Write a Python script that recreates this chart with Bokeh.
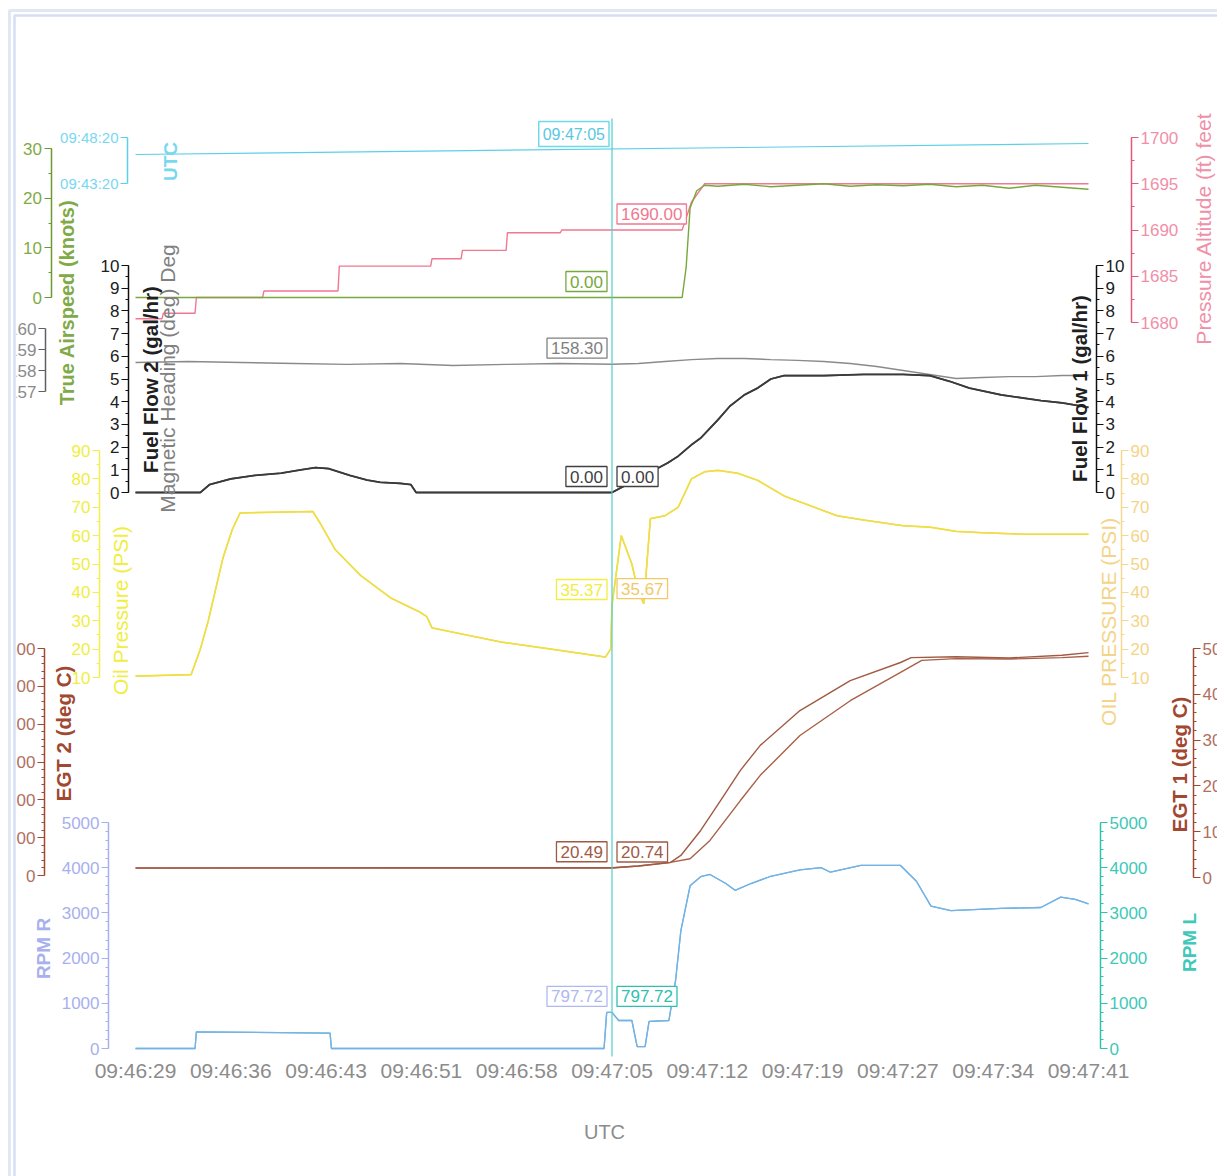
import math
from bokeh.plotting import figure
from bokeh.models import Range1d, LinearAxis, FixedTicker, Label, BoxAnnotation
from bokeh.embed import file_html
from bokeh.resources import INLINE

# ---------------- data ----------------
x_tick_labels = ["09:46:29", "09:46:36", "09:46:43", "09:46:51", "09:46:58", "09:47:05",
                 "09:47:12", "09:47:19", "09:47:27", "09:47:34", "09:47:41"]
span_seconds = 72          # 09:46:29 -> 09:47:41
cursor_t = 36.0            # 09:47:05
cursor_label = "09:47:05"

utc_t = [0, 72]
utc_v = [0, 72]            # seconds after 09:46:29
utc_ticks = [-189, 111]
utc_tick_labels = ["09:43:20", "09:48:20"]

air_t = [0, 41.3, 41.6, 41.9, 42.4, 43.0, 44.0, 46.0, 48.0, 50.0, 52.0, 54.0, 56.0, 58.0, 60.0, 62.0, 64.0, 66.0, 68.0, 70.0, 72.0]
air_v = [0, 0, 6, 18, 21.5, 22.6, 22.4, 22.8, 22.3, 22.6, 22.9, 22.4, 22.7, 22.5, 22.8, 22.3, 22.6, 22.0, 22.6, 22.2, 21.8]

alt_t = [0, 2.0, 2.1, 4.5, 4.6, 9.6, 9.7, 15.3, 15.4, 22.3, 22.4, 24.6, 24.7, 28.0, 28.1, 32.1, 32.2, 41.3, 42.0, 43.0, 72.0]
alt_v = [1680.4, 1680.4, 1681.0, 1681.0, 1682.7, 1682.7, 1683.4, 1683.4, 1686.1, 1686.1, 1686.9, 1686.9,
         1687.8, 1687.8, 1689.7, 1689.7, 1690.0, 1690.0, 1693.0, 1695.0, 1695.0]

hdg_t = [0, 4, 8, 12, 16, 20, 24, 28, 32, 36, 38, 40, 42, 44, 46, 48, 50, 52, 54, 56, 58, 60, 62, 64, 66, 68, 70, 72]
hdg_v = [158.38, 158.43, 158.38, 158.33, 158.29, 158.33, 158.24, 158.29, 158.33, 158.30, 158.33, 158.43, 158.52,
         158.57, 158.57, 158.52, 158.48, 158.43, 158.33, 158.19, 158.0, 157.81, 157.62, 157.67, 157.71, 157.71, 157.76, 157.76]

ff2_t = [0, 4.9, 5.6, 7.2, 9.0, 11.0, 12.5, 13.6, 14.6, 16.2, 17.5, 18.5, 20.0, 20.8, 21.2, 36.0, 40.2, 41.0,
         42.0, 42.7, 44.0, 44.9, 46.0, 47.0, 48.0, 49.0, 52.0, 55.0, 58.0, 60.0, 61.5, 63.0, 65.4, 68.4, 70.0, 72.0]
ff2_v = [0, 0, 0.35, 0.6, 0.75, 0.85, 1.0, 1.1, 1.05, 0.75, 0.55, 0.45, 0.4, 0.35, 0, 0, 1.3, 1.6,
         2.1, 2.4, 3.2, 3.8, 4.3, 4.6, 5.0, 5.15, 5.15, 5.2, 5.2, 5.15, 4.9, 4.6, 4.3, 4.05, 3.95, 3.75]
ff1_t = ff2_t
ff1_v = ff2_v

oil_t = [0, 4.2, 4.9, 5.5, 6.0, 6.6, 7.3, 7.9, 13.4, 14.0, 15.1, 17.0, 19.3, 21.5, 22.0, 22.4, 25.0, 27.6, 31.4,
         35.1, 35.5, 35.9, 36.0, 36.7, 37.5, 38.0, 38.4, 38.9, 40.0, 41.0, 42.0, 43.0, 44.0, 45.5, 47.0, 49.0,
         51.0, 53.0, 55.0, 58.0, 60.0, 62.0, 64.0, 67.0, 72.0]
oil_v = [10.5, 11, 20, 30, 40, 52, 62, 68, 68.5, 64, 55, 46, 38, 33, 31.5, 27.5, 25, 22.5, 20,
         17.5, 17.2, 20, 35.37, 60, 50, 40, 36, 66, 67, 70, 80, 82.5, 83, 82, 79.5, 74,
         70.5, 67, 65.5, 63.5, 63, 61.5, 61, 60.5, 60.5]
oilr_t = oil_t
oilr_v = [10.5, 11, 20, 30, 40, 52, 62, 68, 68.5, 64, 55, 46, 38, 33, 31.5, 27.5, 25, 22.5, 20,
          17.5, 17.2, 20, 35.67, 60, 50, 40, 36, 66, 67, 70, 80, 82.5, 83, 82, 79.5, 74,
          70.5, 67, 65.5, 63.5, 63, 61.5, 61, 60.5, 60.5]

egt2_t = [0, 10, 20, 30, 36.0, 38.0, 40.4, 41.2, 42.7, 44.2, 45.7, 47.2, 50.2, 54.0, 57.8, 58.6, 62.0, 66.0, 70.0, 72.0]
egt2_v = [20, 20.2, 20.3, 20.4, 20.49, 25, 34, 53, 119, 198, 278, 344, 436, 515, 563, 576, 578, 575, 582, 589]
egt1_t = [0, 10, 20, 30, 36.0, 38.0, 40.4, 41.9, 43.4, 45.7, 47.2, 50.2, 54.0, 57.8, 59.4, 62.0, 66.0, 70.0, 72.0]
egt1_v = [20.5, 20.6, 20.6, 20.7, 20.74, 25, 33, 41, 81, 168, 223, 310, 386, 448, 474, 478, 477, 480, 483]

rpm_t = [0, 4.5, 4.6, 14.7, 14.8, 35.4, 35.6, 36.0, 36.5, 37.5, 37.9, 38.5, 38.8, 40.3, 40.8, 41.2, 41.9, 42.7,
         43.4, 44.6, 45.3, 46.5, 47.9, 50.2, 51.8, 52.5, 54.8, 57.8, 59.0, 60.1, 61.6, 65.4, 68.4, 69.9, 71.0, 72.0]
rpmr_v = [0, 0, 370, 340, 0, 0, 800, 797.72, 620, 620, 40, 40, 600, 620, 1500, 2600, 3600, 3800,
          3850, 3650, 3500, 3650, 3800, 3950, 4000, 3900, 4050, 4050, 3700, 3150, 3050, 3100, 3120, 3350, 3300, 3200]
rpml_v = rpmr_v

readouts = {"air": "0.00", "alt": "1690.00", "hdg": "158.30", "ff2": "0.00", "ff1": "0.00",
            "oil": "35.37", "oilr": "35.67", "egt2": "20.49", "egt1": "20.74", "rpmr": "797.72", "rpml": "797.72"}
readout_vals = {"air": 0.0, "alt": 1690.0, "hdg": 158.30, "ff2": 0.0, "ff1": 0.0,
                "oil": 35.37, "oilr": 35.67, "egt2": 20.49, "egt1": 20.74, "rpmr": 797.72, "rpml": 797.72}

# ---------------- layout helpers ----------------
FONT = "Liberation Sans"
W, H = 1217, 1176
FL, FT = 0, 0
FR, FB = FL + W, FT + H
X0, X1 = 135.0, 1088.0          # page x of first / last time tick
pxs = (X1 - X0) / span_seconds


def sx(X):
    return (X - X0) / pxs


def yr(v1, Y1, v2, Y2):
    k = (v2 - v1) / (Y2 - Y1)
    return Range1d(start=v1 + (FB - Y1) * k, end=v1 + (FT - Y1) * k)


p = figure(width=W, height=H, x_range=Range1d(sx(FL), sx(FR)), y_range=Range1d(FB, FT),
           x_axis_type=None, y_axis_type=None, toolbar_location=None, output_backend="svg",
           min_border=0, title=None)
p.outline_line_color = None
p.background_fill_color = "white"

p.extra_y_ranges = {
    "utc": yr(-189, 183, 111, 137),
    "air": yr(0, 297, 30, 148),
    "alt": yr(1680, 322, 1700, 137),
    "hdg": yr(157, 391, 160, 328),
    "ff2": yr(0, 492, 10, 265),
    "ff1": yr(0, 492, 10, 265),
    "oil": yr(10, 677, 90, 450),
    "oilr": yr(10, 677, 90, 450),
    "egt2": yr(0, 875, 600, 648),
    "egt1": yr(0, 877, 500, 648),
    "rpmr": yr(0, 1048, 5000, 822),
    "rpml": yr(0, 1048, 5000, 822),
}


def add_axis(name, side, X, lo, hi, ticks, minor, color, lcolor, overrides=None, fs="17px"):
    ax = LinearAxis(y_range_name=name, fixed_location=sx(X), bounds=(lo, hi),
                    ticker=FixedTicker(ticks=ticks, minor_ticks=minor))
    ax.axis_line_color = color
    ax.axis_line_width = 1.5
    ax.major_tick_line_color = color
    ax.minor_tick_line_color = color
    ax.major_tick_out = 7
    ax.major_tick_in = 0
    ax.minor_tick_out = 3
    ax.minor_tick_in = 0
    ax.major_label_text_color = lcolor
    ax.major_label_text_font = FONT
    ax.major_label_text_font_size = fs
    ax.major_label_standoff = 2
    if overrides:
        ax.major_label_overrides = overrides
    p.add_layout(ax, side)


def rng(a, b, step):
    out, v = [], a
    while v <= b + 1e-9:
        out.append(round(v, 6))
        v += step
    return out


C = {
    "utc": ("#5cd0e8", "#78d8f0"), "air": ("#6a9a30", "#80aa48"), "alt": ("#e45878", "#f090a8"),
    "hdg": ("#606060", "#8a8a8a"), "ff": ("#101010", "#202020"), "oil": ("#f2ee50", "#f0ee40"),
    "oilr": ("#f5d890", "#f4d488"), "egt": ("#a04830", "#b07060"), "rpmr": ("#a8b0f0", "#a8b0ee"),
    "rpml": ("#30c0b0", "#40c8b8"),
}

add_axis("utc", "left", 127, -189, 111, utc_ticks, [], C["utc"][0], C["utc"][1],
         overrides={t: l for t, l in zip(utc_ticks, utc_tick_labels)}, fs="15px")
add_axis("air", "left", 50.5, 0, 30, rng(0, 30, 10), rng(0, 30, 5), C["air"][0], C["air"][1])
add_axis("hdg", "left", 45, 157, 160, rng(157, 160, 1), [], C["hdg"][0], C["hdg"][1])
add_axis("ff2", "left", 128, 0, 10, rng(0, 10, 1), rng(0, 10, 0.5), C["ff"][0], C["ff"][1])
add_axis("oil", "left", 99, 10, 90, rng(10, 90, 10), rng(10, 90, 5), C["oil"][0], C["oil"][1])
add_axis("egt2", "left", 44, 0, 600, rng(0, 600, 100), rng(0, 600, 20), C["egt"][0], C["egt"][1])
add_axis("rpmr", "left", 108, 0, 5000, rng(0, 5000, 1000), rng(0, 5000, 200), C["rpmr"][0], C["rpmr"][1])
add_axis("alt", "right", 1131, 1680, 1700, rng(1680, 1700, 5), rng(1680, 1700, 2.5), C["alt"][0], C["alt"][1])
add_axis("ff1", "right", 1096, 0, 10, rng(0, 10, 1), rng(0, 10, 0.5), C["ff"][0], C["ff"][1])
add_axis("oilr", "right", 1121, 10, 90, rng(10, 90, 10), rng(10, 90, 5), C["oilr"][0], C["oilr"][1])
add_axis("egt1", "right", 1193, 0, 500, rng(0, 500, 100), rng(0, 500, 20), C["egt"][0], C["egt"][1])
add_axis("rpml", "right", 1100, 0, 5000, rng(0, 5000, 1000), rng(0, 5000, 200), C["rpml"][0], C["rpml"][1])

# x axis (time)
x_ticks = [i * span_seconds / (len(x_tick_labels) - 1) for i in range(len(x_tick_labels))]
xax = LinearAxis(fixed_location=1048, bounds=(0, span_seconds), ticker=FixedTicker(ticks=x_ticks, minor_ticks=[]))
xax.major_label_overrides = {t: l for t, l in zip(x_ticks, x_tick_labels)}
xax.axis_line_color = None
xax.major_tick_line_color = None
xax.minor_tick_line_color = None
xax.major_label_text_color = "#8c8c8c"
xax.major_label_text_font = FONT
xax.major_label_text_font_size = "21px"
xax.major_label_standoff = 4
p.add_layout(xax, "below")

# ---------------- series ----------------
p.line(utc_t, utc_v, y_range_name="utc", color=C["utc"][0], line_width=1.2)
p.line(alt_t, alt_v, y_range_name="alt", color="#f07890", line_width=1.4)
p.line(air_t, air_v, y_range_name="air", color="#78a83c", line_width=1.4)
p.line(hdg_t, hdg_v, y_range_name="hdg", color="#8a8a8a", line_width=1.4)
p.line(ff1_t, ff1_v, y_range_name="ff1", color="#4a4a4a", line_width=1.6)
p.line(ff2_t, ff2_v, y_range_name="ff2", color="#3a3a3a", line_width=1.8)
p.line(oilr_t, oilr_v, y_range_name="oilr", color="#f5c870", line_width=1.4)
p.line(oil_t, oil_v, y_range_name="oil", color="#eee040", line_width=1.6)
p.line(egt1_t, egt1_v, y_range_name="egt1", color="#a86048", line_width=1.4)
p.line(egt2_t, egt2_v, y_range_name="egt2", color="#a05a44", line_width=1.4)
p.line(rpm_t, rpml_v, y_range_name="rpml", color="#40c8c8", line_width=1.3)
p.line(rpm_t, rpmr_v, y_range_name="rpmr", color="#7eaeea", line_width=1.3)

# cursor
p.segment(x0=[cursor_t], y0=[118], x1=[cursor_t], y1=[1056], color="#50d0c8", line_width=1.2)
p.add_layout(Label(x=cursor_t, y=146, text=cursor_label, text_align="right", text_baseline="bottom",
                   x_offset=-3, text_color="#58c8e0", text_font=FONT, text_font_size="16px",
                   border_line_color="#70d8e8", border_line_width=1.5, background_fill_color="white", padding=4))

rcol = {"air": "#78a83c", "alt": "#f07890", "hdg": "#808080", "ff2": "#404040", "ff1": "#404040",
        "oil": "#f0ee40", "oilr": "#f2c868", "egt2": "#a05a44", "egt1": "#a05a44", "rpmr": "#b0b8f0",
        "rpml": "#30c0b0"}
rside = {"air": "left", "alt": "right", "hdg": "left", "ff2": "left", "ff1": "right", "oil": "left",
         "oilr": "right", "egt2": "left", "egt1": "right", "rpmr": "left", "rpml": "right"}
for k, txt in readouts.items():
    left = rside[k] == "left"
    p.add_layout(Label(x=cursor_t, y=readout_vals[k], y_range_name=k, text=txt,
                       text_align="right" if left else "left", text_baseline="bottom",
                       x_offset=-5 if left else 5, y_offset=6, text_color=rcol[k], text_font=FONT,
                       text_font_size="17px", border_line_color=rcol[k], border_line_width=1.3,
                       background_fill_color="white", padding=4))

# ---------------- axis titles ----------------
titles = [
    ("UTC", 170, 161, C["utc"][1], "19px", "bold"),
    ("True Airspeed (knots)", 66, 302, C["air"][1], "20px", "bold"),
    ("Magnetic Heading (deg) Deg", 167, 378, "#808080", "21px", "normal"),
    ("Fuel Flow 2 (gal/hr)", 150, 379, "#202020", "20.5px", "bold"),
    ("Oil Pressure (PSI)", 120, 610, C["oil"][1], "21px", "normal"),
    ("EGT 2 (deg C)", 63, 733, C["egt"][0], "20.5px", "bold"),
    ("RPM R", 43, 948, C["rpmr"][1], "19px", "bold"),
    ("Pressure Altitude (ft) feet", 1203, 228, C["alt"][1], "21px", "normal"),
    ("Fuel Flow 1 (gal/hr)", 1079, 388, "#202020", "20.5px", "bold"),
    ("OIL PRESSURE (PSI)", 1108, 621, C["oilr"][1], "21px", "normal"),
    ("EGT 1 (deg C)", 1179, 764, C["egt"][0], "20.5px", "bold"),
    ("RPM L", 1189, 942, C["rpml"][1], "19px", "bold"),
]
for txt, X, Y, col, fs, st in titles:
    p.add_layout(Label(x=sx(X), y=Y, text=txt, angle=math.pi / 2, text_align="center", text_baseline="middle",
                       text_color=col, text_font=FONT, text_font_size=fs, text_font_style=st))
p.add_layout(Label(x=sx(604), y=1131, text="UTC", text_align="center", text_baseline="middle",
                   text_color="#8c8c8c", text_font=FONT, text_font_size="20px"))

# ---------------- page border ----------------
p.add_layout(BoxAnnotation(left=sx(-10), right=sx(16), top=-10, bottom=2000, fill_color="white", fill_alpha=1,
                           line_color=None, level="overlay"))
p.add_layout(BoxAnnotation(left=sx(9), right=sx(1400), top=10, bottom=2000, fill_color=None,
                           line_color="#9db2d6", line_width=3, level="overlay"))
p.add_layout(BoxAnnotation(left=sx(14), right=sx(1400), top=15, bottom=2000, fill_color=None,
                           line_color="#7496d2", line_width=2.5, level="overlay"))

open("out.html", "w").write(file_html(p, INLINE))
